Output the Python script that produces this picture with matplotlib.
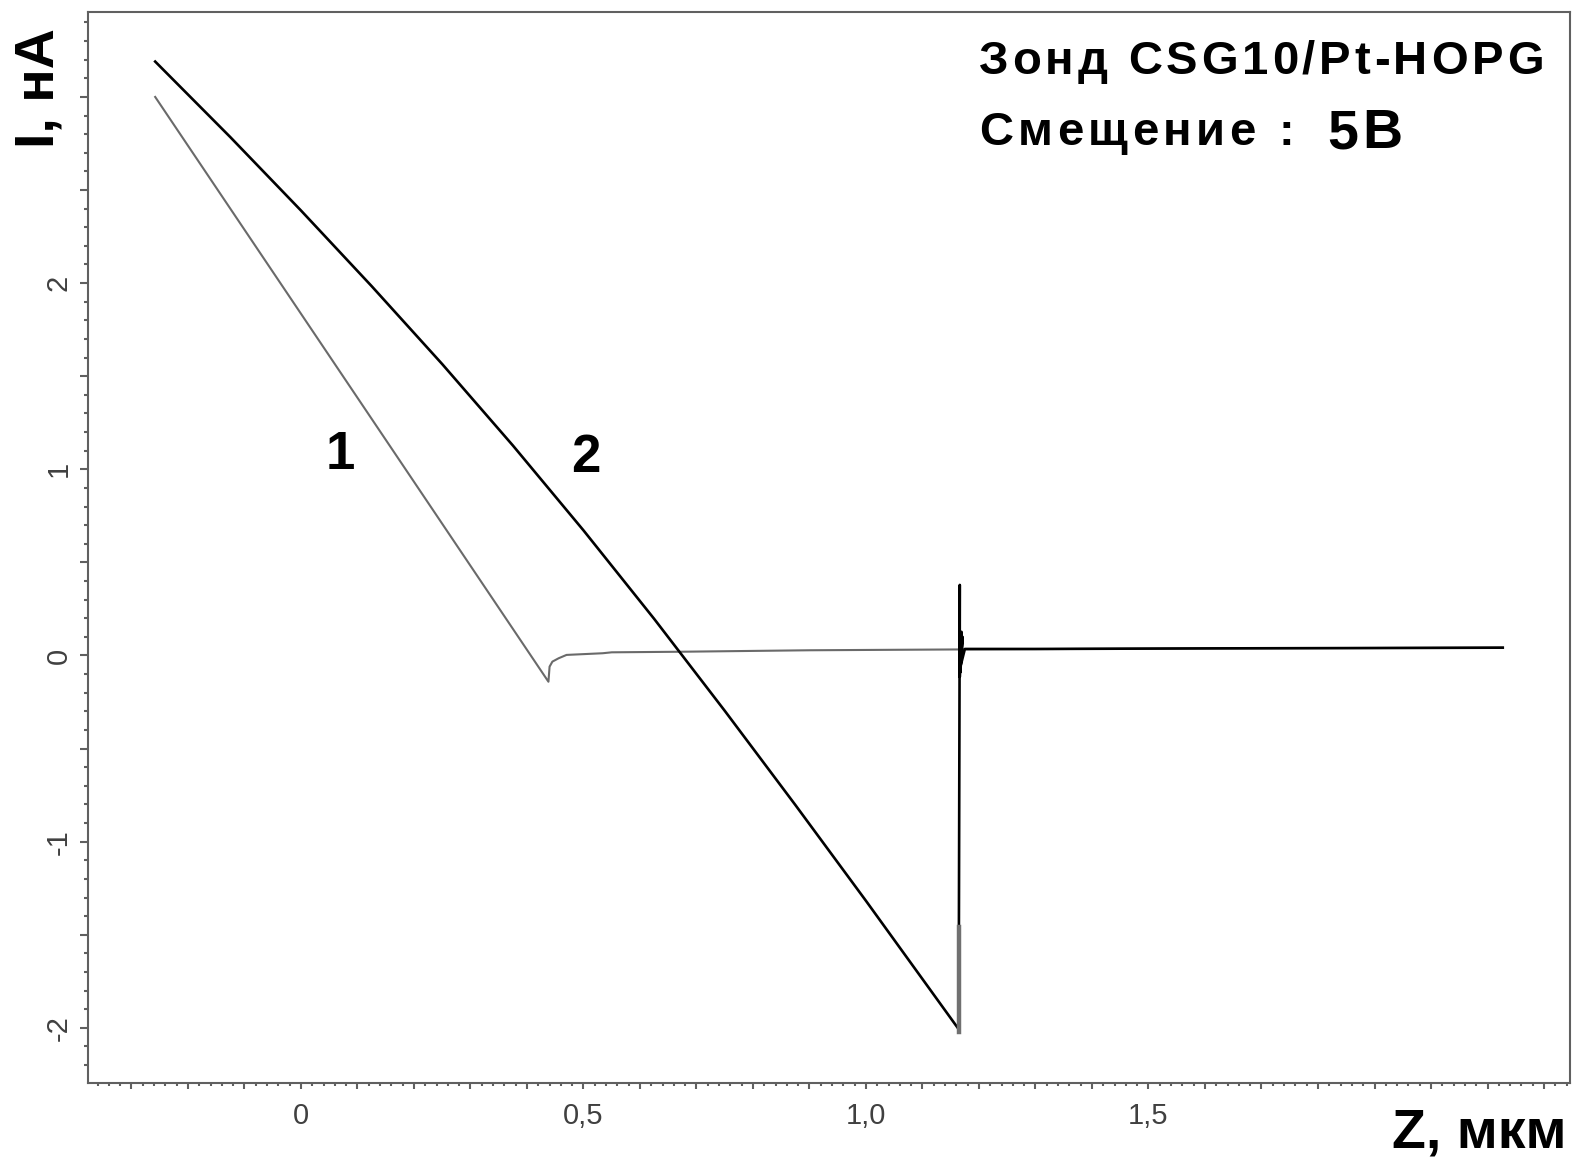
import matplotlib
matplotlib.use('Agg')
import matplotlib.pyplot as plt
import matplotlib.transforms as mtransforms
from matplotlib.ticker import MultipleLocator, FuncFormatter

plt.rcParams['font.family'] = ['Liberation Sans', 'DejaVu Sans']

# curve 1 (grey, approach)
z1 = [-0.258, 0.438, 0.440, 0.445, 0.456, 0.470, 0.534,
      0.55, 0.67, 0.9, 1.2, 1.6, 2.127]
i1 = [3.00, -0.141, -0.06, -0.033, -0.015, 0.003, 0.012,
      0.017, 0.02, 0.028, 0.033, 0.038, 0.042]

# curve 2 (black, retract) with jump-off at ~1.166 um
z2 = [-0.258, -0.125, 0.0, 0.125, 0.25, 0.375, 0.5, 0.625, 0.75, 0.875, 1.0, 1.164,
      1.166, 1.166, 1.169, 1.167, 1.171, 1.168, 1.175, 1.3, 1.6, 1.9, 2.127]
i2 = [3.19, 2.784, 2.39, 1.984, 1.565, 1.128, 0.672, 0.197, -0.297, -0.803, -1.318, -2.007,
      0.379, -0.115, 0.127, -0.09, 0.10, -0.05, 0.035, 0.035, 0.038, 0.040, 0.042]

# grey lower part of the vertical jump
zj = [1.164, 1.164]
ij = [-2.02, -1.458]

xtick_labels = {0.0: '0', 0.5: '0,5', 1.0: '1,0', 1.5: '1,5'}
ytick_labels = {-2: '-2', -1: '-1', 0: '0', 1: '1', 2: '2'}

fig = plt.figure(figsize=(15.79, 11.57), dpi=100)
ax = fig.add_axes([0.0557, 0.064, 0.9386, 0.9256])

ax.plot(z1, i1, color='#6a6a6a', lw=1.5)
ax.plot(z2, i2, color='black', lw=1.9)
ax.plot(zj, ij, color='#707070', lw=3.2)

ax.set_xlim(-0.377, 2.246)
ax.set_ylim(-2.296, 3.456)

spine_c = '#606060'
for s in ax.spines.values():
    s.set_color(spine_c)
    s.set_linewidth(1.5)

ax.xaxis.set_major_locator(MultipleLocator(0.1))
ax.xaxis.set_minor_locator(MultipleLocator(0.02))
ax.yaxis.set_major_locator(MultipleLocator(0.5))
ax.yaxis.set_minor_locator(MultipleLocator(0.1))


def fmt_x(v, pos):
    for k, lab in xtick_labels.items():
        if abs(v - k) < 1e-6:
            return lab
    return ''


def fmt_y(v, pos):
    for k, lab in ytick_labels.items():
        if abs(v - k) < 1e-6:
            return lab
    return ''


ax.xaxis.set_major_formatter(FuncFormatter(fmt_x))
ax.yaxis.set_major_formatter(FuncFormatter(fmt_y))

ax.tick_params(axis='x', which='major', length=4.5, width=1.5, color=spine_c,
               labelsize=21, labelcolor='#404040', pad=9)
ax.tick_params(axis='x', which='minor', length=2.5, width=1.5, color=spine_c)
ax.tick_params(axis='y', which='major', length=6, width=1.5, color=spine_c,
               labelsize=21, labelcolor='#404040', pad=5, labelrotation=90)
ax.tick_params(axis='y', which='minor', length=3, width=1.5, color=spine_c)
for lab in ax.get_yticklabels():
    lab.set_va('center')

renderer = fig.canvas.get_renderer()


def spaced_text(x, y, s, gap, size):
    # place letters one by one to get the wide letter spacing of the original
    off = 0.0
    for ch in s:
        if ch == ' ':
            off += 0.28 * size * fig.dpi / 72 + gap
            continue
        tr = mtransforms.offset_copy(ax.transData, fig=fig, x=off, y=0, units='dots')
        t = ax.text(x, y, ch, transform=tr, fontsize=size, fontweight='bold',
                    ha='left', va='center')
        off += t.get_window_extent(renderer).width + gap


# curve numbers
ax.text(0.069, 1.077, '1', fontsize=38, fontweight='bold', ha='center', va='center')
ax.text(0.504, 1.06, '2', fontsize=38, fontweight='bold', ha='center', va='center')

# info text
spaced_text(1.20, 3.19, 'Зонд CSG10/Pt-HOPG', 3.8, 34)
spaced_text(1.20, 2.806, 'Смещение :', 4.5, 34)
spaced_text(1.816, 2.80, '5В', 4, 40)

# axis titles
fig.text(0.0253, 0.924, 'I, нА', fontsize=40, fontweight='bold', rotation=90,
         ha='center', va='center')
fig.text(0.937, 0.0207, 'Z, мкм', fontsize=40, fontweight='bold',
         ha='center', va='center')

fig.savefig('out.png', dpi=100)
